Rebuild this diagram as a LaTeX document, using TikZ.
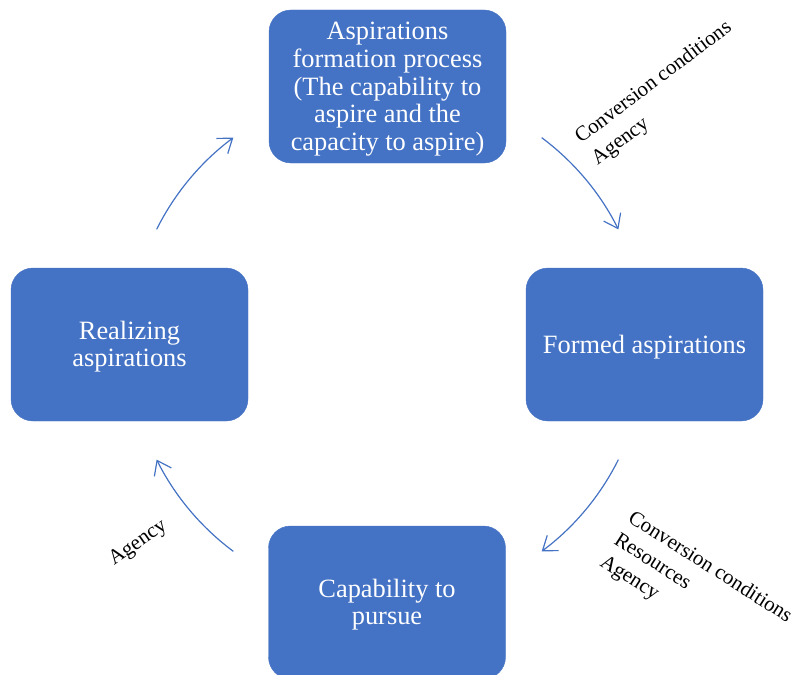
\documentclass[tikz,border=0pt]{standalone}
\usepackage{fontspec}
\setmainfont{Liberation Serif}
\usetikzlibrary{arrows.meta}
\definecolor{boxblue}{HTML}{4472C4}
\newcommand{\boxtext}[1]{\raisebox{-3pt}[\height][\depth]{\setlength{\tabcolsep}{0pt}\begin{tabular}{c}#1\end{tabular}}}
\tikzset{
  stagebox/.style={rectangle, rounded corners=22pt, fill=boxblue, draw=boxblue,
    minimum width=237pt, minimum height=153pt, inner sep=0pt, text=white,
    font=\fontsize{26.4}{27.6}\selectfont},
  cyclearrow/.style={draw=boxblue, line width=1.2pt, -{Straight Barb[length=13pt,width=19pt,line width=1.2pt]}},
  sidelabel/.style={anchor=base west, inner sep=0pt, text=black, font=\fontsize{21}{24}\selectfont}
}
\begin{document}
\begin{tikzpicture}[x=1pt,y=1pt]
\useasboundingbox (0,0) rectangle (794,-674);
\clip (0,0) rectangle (794,-674);
\coordinate (c) at (387.5,-344.5);
\node[stagebox] (top) at (387.5,-86.5) {\boxtext{Aspirations\\formation process\\(The capability to\\aspire and the\\capacity to aspire)}};
\node[stagebox] (right) at (644.5,-344.5) {\boxtext{Formed aspirations}};
\node[stagebox] (bottom) at (387,-602.5) {\boxtext{Capability to\\pursue}};
\node[stagebox] (left) at (129.5,-344.5) {\boxtext{Realizing\\aspirations}};
% arc start points
\coordinate (a1) at ([shift={(153.5:258)}]c);
\coordinate (a2) at ([shift={(53.3:258)}]c);
\coordinate (a3) at ([shift={(-26.5:258)}]c);
\coordinate (a4) at ([shift={(233.3:258)}]c);
\path[cyclearrow] (a1) arc[start angle=153.5, end angle=126.7, radius=258];
\path[cyclearrow] (a2) arc[start angle=53.3, end angle=26.5, radius=258];
\path[cyclearrow] (a3) arc[start angle=-26.5, end angle=-53.3, radius=258];
\path[cyclearrow] (a4) arc[start angle=233.3, end angle=206.5, radius=258];
% labels
\node[sidelabel, rotate=37] (l1a) at (581,-144) {Conversion conditions};
\node[sidelabel, rotate=37] (l1b) at (597.5,-165.5) {Agency};
\node[sidelabel, rotate=-32.5] (l2a) at (627,-521) {Conversion conditions};
\node[sidelabel, rotate=-32.5] (l2b) at (613,-543) {Resources};
\node[sidelabel, rotate=-32.5] (l2c) at (599,-565) {Agency};
\node[sidelabel, rotate=35] (l3) at (114,-566) {Agency};
\end{tikzpicture}
\end{document}
